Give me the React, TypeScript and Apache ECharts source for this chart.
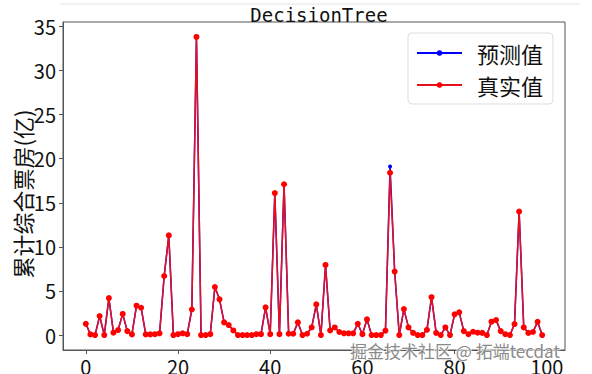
import React, { useEffect, useRef } from "react";
import * as echarts from "echarts";

const titleText = "DecisionTree";
const yAxisName = "累计综合票房(亿)";
const seriesNames = ["预测值", "真实值"];
const xTicks = [0, 20, 40, 60, 80, 100];
const yTicks = [0, 5, 10, 15, 20, 25, 30, 35];

const actual = [
  1.28, 0.08, 0, 2.16, 0, 4.2, 0.27, 0.57, 2.4, 0.45,
  0.08, 3.33, 3.1, 0.08, 0.08, 0.1, 0.2, 6.7, 11.3, 0,
  0.1, 0.2, 0.1, 2.9, 33.8, 0, 0, 0.1, 5.45, 4.05,
  1.44, 1.14, 0.53, 0, 0, 0, 0, 0.1, 0.1, 3.14,
  0.1, 16.1, 0.1, 17.1, 0.15, 0.15, 1.44, 0, 0.15, 0.87,
  3.48, 0, 7.95, 0.53, 0.87, 0.35, 0.2, 0.2, 0.2, 1.28,
  0.1, 1.78, 0, 0, 0, 0.5, 18.4, 7.2, 0, 2.95,
  0.87, 0.25, 0, 0, 0.6, 4.3, 0.25, 0, 0.87, 0,
  2.35, 2.58, 0.45, 0.1, 0.38, 0.27, 0.25, 0, 1.52, 1.7,
  0.45, 0.1, 0, 1.25, 14.0, 0.87, 0.25, 0.35, 1.5, 0,
];

const predicted = [
  1.28, 0.08, 0, 2.16, 0, 4.2, 0.27, 0.57, 2.4, 0.45,
  0.08, 3.33, 3.1, 0.08, 0.08, 0.1, 0.2, 6.7, 11.3, 0,
  0.1, 0.2, 0.1, 2.9, 33.8, 0, 0, 0.1, 5.45, 4.05,
  1.44, 1.14, 0.53, 0, 0, 0, 0, 0.1, 0.1, 3.14,
  0.1, 16.1, 0.1, 17.1, 0.15, 0.15, 1.44, 0, 0.15, 0.87,
  3.48, 0, 7.95, 0.53, 0.87, 0.35, 0.2, 0.2, 0.2, 1.28,
  0.1, 1.78, 0, 0, 0, 0.5, 19.1, 7.2, 0, 2.95,
  0.87, 0.25, 0, 0, 0.6, 4.3, 0.25, 0, 0.87, 0,
  2.35, 2.58, 0.45, 0.1, 0.38, 0.27, 0.25, 0, 1.52, 1.7,
  0.45, 0.1, 0, 1.25, 14.0, 0.87, 0.25, 0.35, 1.5, 0,
];

const watermark = "掘金技术社区 @ 拓端tecdat";

export default function App() {
  const ref = useRef<HTMLDivElement>(null);
  useEffect(() => {
    if (!ref.current) return;
    const chart = echarts.init(ref.current, undefined, { renderer: "svg" });
    const n = actual.length;
    const xPad = (n - 1) * 0.05;
    const yMaxData = Math.max(...actual, ...predicted);
    const yPad = yMaxData * 0.05;
    const cjk = "'Noto Sans CJK SC', 'Noto Sans', sans-serif";
    chart.setOption({
      animation: false,
      backgroundColor: "#fff",
      title: {
        text: titleText,
        left: 314,
        textAlign: "center",
        top: 0,
        textStyle: {
          fontFamily: "'DejaVu Sans Mono', monospace",
          fontSize: 19,
          fontWeight: "normal",
          color: "#111",
        },
      },
      legend: {
        orient: "vertical",
        right: 39,
        top: 33,
        padding: [9, 10, 8, 8],
        itemGap: 10,
        itemWidth: 45,
        itemHeight: 7,
        borderColor: "#ddd",
        borderWidth: 1,
        borderRadius: 4,
        backgroundColor: "rgba(255,255,255,0.85)",
        textStyle: { fontFamily: cjk, fontSize: 22, color: "#111", padding: [0, 0, 0, 10] },
        data: seriesNames,
      },
      grid: {
        left: 63,
        right: 27,
        top: 22,
        bottom: 24,
        show: true,
        borderColor: "#555",
        borderWidth: 1,
        containLabel: false,
        outerBoundsMode: "none",
      },
      xAxis: {
        type: "value",
        min: -xPad,
        max: n - 1 + xPad,
        splitLine: { show: false },
        axisLine: { show: true, onZero: false, lineStyle: { color: "#555" } },
        axisTick: { show: true, customValues: xTicks, length: 4, lineStyle: { color: "#555" } },
        axisLabel: {
          customValues: xTicks,
          fontFamily: cjk,
          fontSize: 20,
          color: "#111",
          margin: 6,
        },
      },
      yAxis: {
        type: "value",
        min: -yPad,
        max: yMaxData + yPad,
        name: yAxisName,
        nameLocation: "middle",
        nameGap: 30,
        nameMoveOverlap: false,
        nameTextStyle: { fontFamily: cjk, fontSize: 22, color: "#111", padding: [0, 16, 0, 0] },
        splitLine: { show: false },
        axisLine: { show: true, onZero: false, lineStyle: { color: "#555" } },
        axisTick: { show: true, customValues: yTicks, length: 4, lineStyle: { color: "#555" } },
        axisLabel: {
          customValues: yTicks,
          fontFamily: cjk,
          fontSize: 20,
          color: "#111",
          margin: 7,
        },
      },
      series: [
        {
          name: seriesNames[0],
          type: "line",
          data: predicted.map((v, i) => [i, v]),
          symbol: "circle",
          symbolSize: 4,
          showAllSymbol: true,
          itemStyle: { color: "#0000ff" },
          lineStyle: { color: "#0000ff", width: 1.5 },
          z: 2,
        },
        {
          name: seriesNames[1],
          type: "line",
          data: actual.map((v, i) => [i, v]),
          symbol: "circle",
          symbolSize: 6,
          showAllSymbol: true,
          itemStyle: { color: "#ff0000" },
          lineStyle: { color: "#e8101a", width: 1.5 },
          z: 3,
        },
      ],
      graphic: [
        {
          type: "line",
          shape: { x1: 60, y1: 4, x2: 580, y2: 4 },
          style: { stroke: "#e6e6e6", lineWidth: 1 },
          z: 100,
        },
        {
          type: "text",
          left: 349,
          top: 341,
          style: {
            text: watermark,
            font: "17px 'Noto Sans CJK SC', sans-serif",
            fill: "#8a8a8a",
            stroke: "rgba(255,255,255,0.8)",
            lineWidth: 2,
          },
          z: 100,
        },
      ],
    });
    return () => chart.dispose();
  }, []);
  return (
    <div
      ref={ref}
      style={{ position: "fixed", left: 0, top: 0, width: 592, height: 374 }}
    />
  );
}
